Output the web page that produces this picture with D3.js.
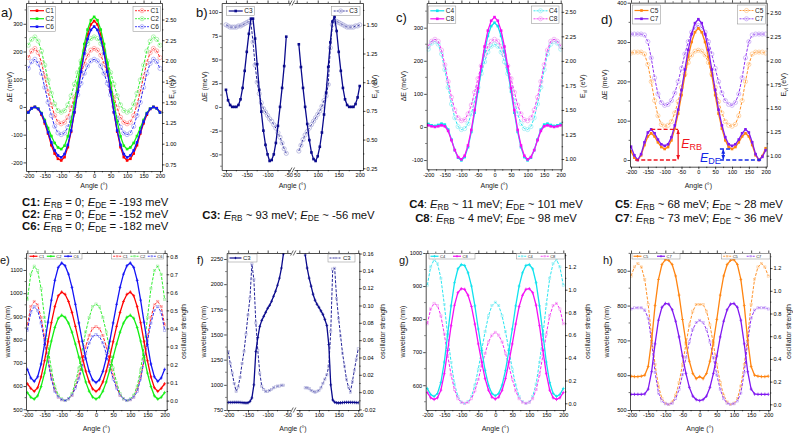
<!DOCTYPE html>
<html>
<head>
<meta charset="utf-8">
<script src="https://cdn.jsdelivr.net/npm/d3@7/dist/d3.min.js"></script>
<style>
  body { margin: 0; background: #fff; }
  svg { display: block; font-family: "Liberation Sans", Arial, sans-serif; }
</style>
</head>
<body>
<svg id="fig" width="793" height="433"></svg>
<script>
// ---------------- data ----------------
// angles (deg), 10 deg step
const ANG = [-200,-190,-180,-170,-160,-150,-140,-130,-120,-110,-100,-90,-80,-70,-60,-50,-40,-30,-20,-10,0,10,20,30,40,50,60,70,80,90,100,110,120,130,140,150,160,170,180,190,200];
// 5 deg step, broken axis panels
const ANG_B_L = [-200,-195,-190,-185,-180,-175,-170,-165,-160,-155,-150,-145,-140,-135,-130,-125,-120,-115,-110,-105,-100,-95,-90,-85,-80,-75,-70,-65,-60,-55];
const ANG_B_R = [55,60,65,70,75,80,85,90,95,100,105,110,115,120,125,130,135,140,145,150,155,160,165,170,175,180,185,190,195,200];
const ANG_F_L = [-200,-195,-190,-185,-180,-175,-170,-165,-160,-155,-150,-145,-140,-135,-130,-125,-120,-115,-110,-105,-100,-95,-90,-85,-80,-75,-70,-65,-60];
const ANG_F_R = [65,70,75,80,85,90,95,100,105,110,115,120,125,130,135,140,145,150,155,160,165,170,175,180,185,190,195,200];

const X_TICKS = [-200,-150,-100,-50,0,50,100,150,200];

// a) dE (meV) / E_vl (eV)
const dE_C1 = [-18,-4,0,-7,-28,-59,-96,-138,-168,-187,-193,-181,-145,-89,-19,58,136,206,262,298,310,298,262,206,136,58,-19,-89,-145,-181,-193,-187,-168,-138,-96,-59,-28,-7,0,-4,-18];
const dE_C2 = [-20,-5,0,-6,-22,-47,-76,-105,-130,-146,-152,-140,-106,-54,13,87,160,227,279,313,325,313,279,227,160,87,13,-54,-106,-140,-152,-146,-130,-105,-76,-47,-22,-6,0,-5,-20];
const dE_C6 = [-20,-5,0,-7,-24,-53,-91,-128,-157,-175,-182,-170,-137,-85,-19,54,127,193,245,278,290,278,245,193,127,54,-19,-85,-137,-170,-182,-175,-157,-128,-91,-53,-24,-7,0,-5,-20];
const Ev_C1 = [2.04,2.12,2.15,2.10,1.98,1.81,1.63,1.47,1.34,1.26,1.24,1.26,1.32,1.43,1.56,1.70,1.84,1.97,2.07,2.13,2.15,2.13,2.07,1.97,1.84,1.70,1.56,1.43,1.32,1.26,1.24,1.26,1.34,1.47,1.63,1.81,1.98,2.10,2.15,2.12,2.04];
const Ev_C2 = [2.19,2.26,2.29,2.24,2.12,1.95,1.77,1.61,1.48,1.40,1.38,1.40,1.47,1.58,1.72,1.86,2.00,2.12,2.21,2.27,2.29,2.27,2.21,2.12,2.00,1.86,1.72,1.58,1.47,1.40,1.38,1.40,1.48,1.61,1.77,1.95,2.12,2.24,2.29,2.26,2.19];
const Ev_C6 = [1.91,1.99,2.02,1.97,1.85,1.68,1.50,1.34,1.21,1.13,1.11,1.13,1.20,1.31,1.45,1.59,1.73,1.85,1.94,2.00,2.02,2.00,1.94,1.85,1.73,1.59,1.45,1.31,1.20,1.13,1.11,1.13,1.21,1.34,1.50,1.68,1.85,1.97,2.02,1.99,1.91];

// b) C3
const dE_C3_L = [18,7,2,0,0,0,2,8,20,38,58,77,93,93,72,45,18,-5,-25,-40,-50,-57,-56,-50,-38,-20,0,20,43,74];
const dE_C3_R = [66,42,20,0,-18,-35,-48,-55,-57,-52,-42,-27,-8,15,42,68,90,95,80,58,38,20,8,2,0,0,0,3,10,22];
const Ev_C3_L = [1.50,1.49,1.48,1.48,1.48,1.48,1.49,1.49,1.50,1.51,1.52,1.53,1.52,1.35,1.15,1.00,0.90,0.82,0.77,0.74,0.71,0.68,0.66,0.63,0.60,0.56,0.52,0.47,0.42,0.38];
const Ev_C3_R = [0.40,0.45,0.50,0.54,0.57,0.60,0.63,0.66,0.69,0.72,0.75,0.79,0.84,0.88,0.98,1.30,1.50,1.53,1.53,1.52,1.51,1.50,1.49,1.48,1.48,1.48,1.48,1.49,1.49,1.50];

// c) C4, C8
const dE_C4 = [9,5,3,6,10,7,-8,-38,-70,-93,-101,-91,-61,-15,43,107,171,229,275,305,315,305,275,229,171,107,43,-15,-61,-91,-101,-93,-70,-38,-8,7,10,6,3,5,9];
const dE_C8 = [5,2,0,2,5,2,-12,-40,-70,-91,-98,-87,-56,-9,51,117,183,243,291,321,332,321,291,243,183,117,51,-9,-56,-87,-98,-91,-70,-40,-12,2,5,2,0,2,5];
const Ev_C4 = [2.12,2.18,2.20,2.17,2.07,1.91,1.73,1.56,1.42,1.33,1.30,1.31,1.36,1.46,1.59,1.73,1.87,1.99,2.09,2.15,2.17,2.15,2.09,1.99,1.87,1.73,1.59,1.46,1.36,1.31,1.30,1.33,1.42,1.56,1.73,1.91,2.07,2.17,2.20,2.18,2.12];
const Ev_C8 = [2.15,2.20,2.22,2.20,2.11,1.96,1.79,1.63,1.50,1.42,1.39,1.40,1.46,1.55,1.68,1.82,1.95,2.06,2.15,2.20,2.22,2.20,2.15,2.06,1.95,1.82,1.68,1.55,1.46,1.40,1.39,1.42,1.50,1.63,1.79,1.96,2.11,2.20,2.22,2.20,2.15];

// d) C5, C7
const dE_C5 = [22,6,0,12,38,60,68,60,45,33,28,33,50,80,118,165,215,262,300,325,335,325,300,262,215,165,118,80,50,33,28,33,45,60,68,60,38,12,0,10,30];
const dE_C7 = [34,12,0,15,45,70,78,68,52,40,36,40,58,88,128,178,230,280,320,348,358,348,320,280,230,178,128,88,58,40,36,40,52,68,78,70,45,15,0,8,25];
const Ev_C5 = [2.08,2.09,2.09,2.09,2.07,1.96,1.78,1.58,1.42,1.33,1.31,1.32,1.36,1.45,1.57,1.72,1.86,1.98,2.06,2.10,2.11,2.10,2.06,1.98,1.86,1.72,1.57,1.45,1.36,1.32,1.31,1.33,1.42,1.58,1.78,1.96,2.07,2.09,2.09,2.09,2.08];
const Ev_C7 = [2.28,2.28,2.28,2.28,2.27,2.20,2.03,1.82,1.65,1.56,1.53,1.54,1.58,1.66,1.78,1.92,2.07,2.20,2.30,2.35,2.37,2.35,2.30,2.20,2.07,1.92,1.78,1.66,1.58,1.54,1.53,1.56,1.65,1.82,2.03,2.20,2.27,2.28,2.28,2.28,2.28];

// e) wavelength (nm) / oscillator strength
const WL_C1 = [610,590,577,593,640,709,791,873,942,989,1005,995,964,917,857,791,725,665,618,588,577,588,618,665,725,791,857,917,964,995,1005,989,942,873,791,709,640,593,577,590,610];
const WL_C2 = [572,552,544,558,598,656,725,794,852,892,905,896,871,832,781,725,669,618,578,553,544,553,578,618,669,725,781,832,871,896,905,892,852,794,725,656,598,558,544,552,572];
const WL_C6 = [672,635,620,640,695,780,875,970,1055,1111,1130,1118,1082,1025,952,872,793,720,663,627,615,627,663,720,793,872,952,1025,1082,1118,1130,1111,1055,970,875,780,695,640,620,635,672];
const OS_C1 = [0.42,0.52,0.55,0.53,0.46,0.35,0.23,0.13,0.06,0.02,0.005,0.00,0.01,0.03,0.08,0.14,0.22,0.30,0.36,0.40,0.41,0.40,0.36,0.30,0.22,0.14,0.08,0.03,0.01,0.00,0.005,0.02,0.06,0.13,0.23,0.35,0.46,0.53,0.55,0.52,0.42];
const OS_C2 = [0.56,0.70,0.745,0.72,0.62,0.46,0.30,0.17,0.08,0.03,0.01,0.00,0.01,0.04,0.10,0.18,0.28,0.38,0.46,0.52,0.535,0.52,0.46,0.38,0.28,0.18,0.10,0.04,0.01,0.00,0.01,0.03,0.08,0.17,0.30,0.46,0.62,0.72,0.745,0.70,0.56];
const OS_C6 = [0.39,0.49,0.52,0.50,0.43,0.33,0.22,0.12,0.05,0.02,0.005,0.00,0.01,0.03,0.07,0.12,0.19,0.26,0.32,0.355,0.365,0.355,0.32,0.26,0.19,0.12,0.07,0.03,0.01,0.00,0.005,0.02,0.05,0.12,0.22,0.33,0.43,0.50,0.52,0.49,0.39];

// f) C3
const WL_C3_L = [825,825,825,826,826,826,825,824,822,820,822,835,870,1000,1330,1470,1580,1640,1680,1720,1760,1790,1830,1880,1930,1990,2060,2160,2300];
const WL_C3_R = [2290,2160,2060,1980,1900,1840,1800,1770,1735,1700,1650,1590,1400,1000,850,828,822,820,822,824,825,826,826,826,825,825,824,823];
const OS_C3_L = [0.047,0.033,0.022,0.010,0.001,0.006,0.017,0.033,0.047,0.067,0.089,0.108,0.148,0.130,0.080,0.048,0.022,0.007,0.003,0.001,0.001,0.002,0.003,0.005,0.006,0.007,0.007,0.008,0.008];
const OS_C3_R = [0.005,0.005,0.004,0.002,0.001,0.000,0.001,0.002,0.005,0.010,0.015,0.020,0.030,0.070,0.142,0.143,0.108,0.085,0.065,0.045,0.030,0.015,0.006,0.000,0.012,0.025,0.038,0.050];

// g) C4, C8
const WL_C4 = [590,572,566,575,608,670,755,840,910,952,965,962,940,900,840,770,705,645,600,575,568,575,600,645,705,770,840,900,940,962,965,952,910,840,755,670,608,575,566,572,590];
const WL_C8 = [578,562,557,562,585,635,705,780,842,880,892,890,872,838,785,725,670,620,585,564,558,564,585,620,670,725,785,838,872,890,892,880,842,780,705,635,585,562,557,562,578];
const OS_C4 = [1.04,1.20,1.265,1.23,1.10,0.87,0.60,0.36,0.17,0.06,0.01,0.0,0.015,0.06,0.16,0.30,0.47,0.63,0.77,0.86,0.89,0.86,0.77,0.63,0.47,0.30,0.16,0.06,0.015,0.0,0.01,0.06,0.17,0.36,0.60,0.87,1.10,1.23,1.265,1.20,1.04];
const OS_C8 = [0.70,0.83,0.88,0.86,0.77,0.61,0.42,0.25,0.12,0.04,0.01,0.0,0.01,0.04,0.11,0.21,0.33,0.44,0.54,0.60,0.625,0.60,0.54,0.44,0.33,0.21,0.11,0.04,0.01,0.0,0.01,0.04,0.12,0.25,0.42,0.61,0.77,0.86,0.88,0.83,0.70];

// h) C5, C7
const WL_C5 = [597,596,596,597,600,625,700,800,875,918,932,930,918,885,830,760,695,640,605,590,596,590,605,640,695,760,830,885,918,930,932,918,875,800,700,625,600,597,596,596,597];
const WL_C7 = [545,545,545,545,546,560,610,690,758,795,806,804,788,755,710,655,605,565,540,530,527,530,540,565,605,655,710,755,788,804,806,795,758,690,610,560,546,545,545,545,545];
const OS_C5 = [1.13,1.21,1.24,1.21,1.10,0.88,0.60,0.35,0.16,0.05,0.01,0.0,0.02,0.08,0.19,0.35,0.53,0.70,0.82,0.88,0.88,0.88,0.82,0.70,0.53,0.35,0.19,0.08,0.02,0.0,0.01,0.05,0.16,0.35,0.60,0.88,1.10,1.21,1.24,1.21,1.13];
const OS_C7 = [0.84,0.85,0.85,0.85,0.83,0.76,0.55,0.28,0.10,0.03,0.005,0.0,0.01,0.05,0.13,0.26,0.41,0.55,0.66,0.72,0.74,0.72,0.66,0.55,0.41,0.26,0.13,0.05,0.01,0.0,0.005,0.03,0.10,0.28,0.55,0.76,0.83,0.85,0.85,0.85,0.84];

// barrier annotation in d) (meV, deg)
const E_RB_C7 = 78, E_DE_C5 = 28;

// captions
const CAPTIONS = [
  { x: 22, y: 206, a: "start", parts: [["C1:","b"],[" "],["E","i"],["RB","sub"],[" = 0; "],["E","i"],["DE","sub"],[" = -193 meV"]] },
  { x: 22, y: 218, a: "start", parts: [["C2:","b"],[" "],["E","i"],["RB","sub"],[" = 0; "],["E","i"],["DE","sub"],[" = -152 meV"]] },
  { x: 22, y: 230, a: "start", parts: [["C6:","b"],[" "],["E","i"],["RB","sub"],[" = 0; "],["E","i"],["DE","sub"],[" = -182 meV"]] },
  { x: 288.5, y: 219, a: "middle", parts: [["C3:","b"],[" "],["E","i"],["RB","sub"],[" ~ 93 meV; "],["E","i"],["DE","sub"],[" ~ -56 meV"]] },
  { x: 496, y: 208, a: "middle", parts: [["C4","b"],[": "],["E","i"],["RB","sub"],[" ~ 11 meV; "],["E","i"],["DE","sub"],[" ~ 101 meV"]] },
  { x: 496, y: 221.5, a: "middle", parts: [["C8","b"],[": "],["E","i"],["RB","sub"],[" ~ 4 meV; "],["E","i"],["DE","sub"],[" ~ 98 meV"]] },
  { x: 615, y: 208, a: "start", parts: [["C5","b"],[": "],["E","i"],["RB","sub"],[" ~ 68 meV; "],["E","i"],["DE","sub"],[" ~ 28 meV"]] },
  { x: 615, y: 221.5, a: "start", parts: [["C7","b"],[": "],["E","i"],["RB","sub"],[" ~ 73 meV; "],["E","i"],["DE","sub"],[" ~ 36 meV"]] }
];

// ---------------- styles ----------------
const STY = {
  C1: { c: "#FF0000", l: "#FF9A9A" },
  C2: { c: "#14EE14", l: "#9CEE9C" },
  C6: { c: "#1414F5", l: "#A0A0F0" },
  C3: { c: "#0A0A8C", l: "#AAAAD8" },
  C4: { c: "#10E2EE", l: "#9EEEF4" },
  C8: { c: "#F410F4", l: "#F2A4F2" },
  C5: { c: "#FF8410", l: "#FFC890" },
  C7: { c: "#8018F0", l: "#C6A6F6" }
};
const FONT = "'Liberation Sans', Arial, sans-serif";
const FS_TICK = 5.6, FS_TITLE = 7, TICK = 2.5;

const svg = d3.select("#fig");
const defs = svg.append("defs");
svg.append("rect").attr("width", 793).attr("height", 433).attr("fill", "#fff");

function rich(t, parts, size, shift) {
  const sh = shift === undefined ? 0.24 : shift;
  let down = false;
  parts.forEach(([s, st]) => {
    const ts = t.append("tspan").text(s);
    if (st === "sub") {
      ts.attr("font-size", size * 0.72);
      if (!down) { ts.attr("dy", size * sh); down = true; }
    } else {
      if (down) { ts.attr("dy", -size * sh); down = false; }
      if (st === "b") ts.attr("font-weight", "bold");
      if (st === "i") ts.attr("font-style", "italic");
    }
  });
}

function drawMarkers(g, mk, pts, st, k) {
  if (mk === "sq") {
    const s = 2.6 * k;
    g.selectAll(null).data(pts).join("rect")
      .attr("x", d => d[0] - s / 2).attr("y", d => d[1] - s / 2)
      .attr("width", s).attr("height", s).attr("fill", st.c);
  } else if (mk === "oc") {
    g.selectAll(null).data(pts).join("circle")
      .attr("cx", d => d[0]).attr("cy", d => d[1]).attr("r", 2.1 * k)
      .attr("fill", "none").attr("stroke", st.l).attr("stroke-width", 0.75);
  } else if (mk === "plus") {
    const a = 1.4 * k, b = 1.7 * k;
    g.selectAll(null).data(pts).join("path")
      .attr("d", d => `M${d[0] - a},${d[1]}h${2 * a}M${d[0]},${d[1] - b}v${2 * b}`)
      .attr("stroke", st.c).attr("stroke-width", 0.75).attr("fill", "none");
  } else if (mk === "osq") {
    const s = 2.2 * k;
    g.selectAll(null).data(pts).join("rect")
      .attr("x", d => d[0] - s / 2).attr("y", d => d[1] - s / 2)
      .attr("width", s).attr("height", s)
      .attr("fill", "none").attr("stroke", st.l).attr("stroke-width", 0.6);
  }
}

function markerType(row, open) {
  if (row === "top") return open ? "oc" : "sq";
  return open ? "osq" : "plus";
}

function minorVals(ticks, dom) {
  const step = ticks[1] - ticks[0];
  const lo = Math.min(dom[0], dom[1]), hi = Math.max(dom[0], dom[1]);
  const out = [];
  for (let i = -1; i < ticks.length; i++) {
    const v = ticks[0] + step * (i + 0.5);
    if (v >= lo && v <= hi) out.push(v);
  }
  return out;
}

function styleAxis(sel) {
  sel.attr("font-size", FS_TICK).attr("font-family", FONT);
  sel.selectAll("path,line").attr("stroke-width", 0.7);
}

function legend(L, row) {
  const g = svg.append("g");
  g.append("rect").attr("x", L.x).attr("y", L.y).attr("width", L.w).attr("height", L.h)
    .attr("fill", "#fff").attr("stroke", "#8a8a8a").attr("stroke-width", 0.5);
  const k = row === "top" ? 1 : 0.7;
  L.items.forEach((it, i) => {
    const st = STY[it.cmp];
    const cx = L.horiz ? L.x + 1.5 + i * L.step : L.x + 2;
    const cy = L.horiz ? L.y + L.h / 2 : L.y + L.row0 + i * L.rowH;
    g.append("line").attr("x1", cx).attr("x2", cx + L.lw).attr("y1", cy).attr("y2", cy)
      .attr("stroke", st.c).attr("stroke-width", it.open ? 0.8 : 1.2)
      .attr("stroke-dasharray", it.open ? "2,1" : null);
    drawMarkers(g, markerType(row, it.open), [[cx + L.lw / 2, cy]], st, k);
    g.append("text").attr("x", cx + L.lw + 1.5).attr("y", cy).attr("dy", "0.35em")
      .attr("font-size", L.fs).attr("fill", "#222").text(it.cmp);
  });
}

function drawPanel(p) {
  p.ys = d3.scaleLinear().domain(p.ydom).range([p.y1, p.y0]);
  p.y2s = d3.scaleLinear().domain(p.y2dom).range([p.y1, p.y0]);
  p.segs.forEach((s, i) => {
    s.x = d3.scaleLinear().domain(s.dom).range(s.px);
    s.clip = `clip-${p.id}-${i}`;
    defs.append("clipPath").attr("id", s.clip).append("rect")
      .attr("x", s.px[0]).attr("y", p.y0).attr("width", s.px[1] - s.px[0]).attr("height", p.y1 - p.y0);
  });
  const x0 = p.segs[0].px[0], x1 = p.segs[p.segs.length - 1].px[1];

  // series (open / E_vl first, solid on top)
  p.series.forEach(s => {
    const seg = p.segs[s.seg || 0];
    const ys = s.axis === "y2" ? p.y2s : p.ys;
    const st = STY[s.cmp];
    const pts = s.xs.map((a, i) => [seg.x(a), ys(s.ys[i])]);
    const g = svg.append("g").attr("clip-path", `url(#${seg.clip})`);
    g.append("path").attr("d", d3.line()(pts)).attr("fill", "none")
      .attr("stroke", st.c).attr("stroke-width", s.open ? 0.9 : 1.3)
      .attr("stroke-dasharray", s.open ? "3,1.5" : null);
    drawMarkers(g, markerType(p.row, s.open), pts, st, 1);
  });

  // axes
  const ax = svg.append("g");
  ax.append("g").attr("transform", `translate(${x0},0)`)
    .call(d3.axisLeft(p.ys).tickValues(p.yticks).tickFormat(p.yfmt).tickSize(TICK).tickPadding(1).tickSizeOuter(0))
    .call(styleAxis);
  ax.append("g").attr("transform", `translate(${x1},0)`)
    .call(d3.axisRight(p.y2s).tickValues(p.y2ticks).tickFormat(p.y2fmt).tickSize(TICK).tickPadding(1).tickSizeOuter(0))
    .call(styleAxis);
  p.segs.forEach(s => {
    ax.append("g").attr("transform", `translate(0,${p.y1})`)
      .call(d3.axisBottom(s.x).tickValues(s.ticks).tickFormat(d => d).tickSize(TICK).tickPadding(1).tickSizeOuter(0))
      .call(styleAxis);
    ax.append("g").attr("transform", `translate(0,${p.y0})`)
      .call(d3.axisTop(s.x).tickValues(s.ticks).tickFormat("").tickSize(TICK).tickSizeOuter(0))
      .call(styleAxis);
    // minor x ticks
    minorVals(s.ticks, s.dom).forEach(v => {
      const xx = s.x(v);
      ax.append("line").attr("x1", xx).attr("x2", xx).attr("y1", p.y1).attr("y2", p.y1 + 1.4).attr("stroke", "#000").attr("stroke-width", 0.6);
      ax.append("line").attr("x1", xx).attr("x2", xx).attr("y1", p.y0).attr("y2", p.y0 - 1.4).attr("stroke", "#000").attr("stroke-width", 0.6);
    });
  });
  minorVals(p.yticks, p.ydom).forEach(v => {
    const yy = p.ys(v);
    ax.append("line").attr("x1", x0).attr("x2", x0 - 1.4).attr("y1", yy).attr("y2", yy).attr("stroke", "#000").attr("stroke-width", 0.6);
  });
  minorVals(p.y2ticks, p.y2dom).forEach(v => {
    const yy = p.y2s(v);
    ax.append("line").attr("x1", x1).attr("x2", x1 + 1.4).attr("y1", yy).attr("y2", yy).attr("stroke", "#000").attr("stroke-width", 0.6);
  });

  // broken-axis marks
  if (p.segs.length === 2) {
    const mx = (p.segs[0].px[1] + p.segs[1].px[0]) / 2;
    [p.y0, p.y1].forEach(yy => {
      [-1.3, 1.3].forEach(o => {
        ax.append("line").attr("x1", mx + o - 1.3).attr("y1", yy + 2.5)
          .attr("x2", mx + o + 1.3).attr("y2", yy - 2.5)
          .attr("stroke", "#000").attr("stroke-width", 0.6);
      });
    });
  }

  // titles
  const cy = (p.y0 + p.y1) / 2;
  const tl = ax.append("text").attr("transform", `translate(${p.ylabX},${cy}) rotate(-90)`)
    .attr("text-anchor", "middle").attr("dy", "0.35em").attr("font-size", FS_TITLE).attr("fill", "#222");
  rich(tl, p.ylab, FS_TITLE);
  const tr = ax.append("text").attr("transform", `translate(${p.y2labX},${cy}) rotate(-90)`)
    .attr("text-anchor", "middle").attr("dy", "0.35em").attr("font-size", FS_TITLE).attr("fill", "#222");
  rich(tr, p.y2lab, FS_TITLE);
  ax.append("text").attr("x", (x0 + x1) / 2).attr("y", p.xlabY).attr("text-anchor", "middle")
    .attr("font-size", FS_TITLE).attr("fill", "#222").text("Angle (°)");
  ax.append("text").attr("x", p.lab[0]).attr("y", p.lab[1]).attr("font-size", p.lab[2])
    .attr("fill", "#111").text(p.id + ")");

  p.legends.forEach(L => legend(L, p.row));
}

const f0 = d => d;
const f1 = d => d.toFixed(1);
const f2 = d => d.toFixed(2);
const TOP_YLAB = [["ΔE (meV)"]];
const TOP_Y2LAB = [["E"], ["vl", "sub"], [" (eV)"]];
const BOT_YLAB = [["wavelength (nm)"]];
const BOT_Y2LAB = [["oscillator strength"]];
const EV_TICKS = [0.75, 1.0, 1.25, 1.5, 1.75, 2.0, 2.25, 2.5];

function topLegends(xl, xr, y, w, h, cmps, row0, rowH) {
  return [
    { x: xl, y: y, w: w, h: h, row0: row0, rowH: rowH, lw: 14, fs: 6.5, items: cmps.map(c => ({ cmp: c })) },
    { x: xr, y: y, w: w, h: h, row0: row0, rowH: rowH, lw: 14, fs: 6.5, items: cmps.map(c => ({ cmp: c, open: true })) }
  ];
}
function botLegends(xl, wl, xr, wr, cmps, step) {
  return [
    { x: xl, y: 253.5, w: wl, h: 5.5, horiz: true, step: step, lw: 8, fs: 4, items: cmps.map(c => ({ cmp: c })) },
    { x: xr, y: 253.5, w: wr, h: 5.5, horiz: true, step: step, lw: 8, fs: 4, items: cmps.map(c => ({ cmp: c, open: true })) }
  ];
}

const PANELS = [
  { id: "a", row: "top", y0: 3, y1: 171, lab: [1, 16.5, 13],
    segs: [{ dom: [-207, 206], px: [26, 162], ticks: X_TICKS }],
    ydom: [-231, 375], yticks: [-200, -100, 0, 100, 200, 300], yfmt: f0,
    y2dom: [0.67, 2.70], y2ticks: EV_TICKS, y2fmt: f2,
    ylab: TOP_YLAB, y2lab: TOP_Y2LAB, ylabX: 10, y2labX: 171.5, xlabY: 187.5,
    series: [
      { xs: ANG, ys: Ev_C1, axis: "y2", cmp: "C1", open: true },
      { xs: ANG, ys: Ev_C2, axis: "y2", cmp: "C2", open: true },
      { xs: ANG, ys: Ev_C6, axis: "y2", cmp: "C6", open: true },
      { xs: ANG, ys: dE_C1, cmp: "C1" },
      { xs: ANG, ys: dE_C2, cmp: "C2" },
      { xs: ANG, ys: dE_C6, cmp: "C6" }
    ],
    legends: topLegends(28, 133, 6.5, 27.5, 25, ["C1", "C2", "C6"], 4.2, 8) },
  { id: "b", row: "top", y0: 3, y1: 170, lab: [196, 17, 13],
    segs: [{ dom: [-210.3, -46], px: [221.7, 290], ticks: [-200, -150, -100, -50] },
           { dom: [43.5, 207.8], px: [294, 363], ticks: [50, 100, 150, 200] }],
    ydom: [-66.5, 109.5], yticks: [-50, -25, 0, 25, 50, 75, 100], yfmt: f0,
    y2dom: [0.235, 1.69], y2ticks: [0.25, 0.5, 0.75, 1.0, 1.25, 1.5], y2fmt: f2,
    ylab: TOP_YLAB, y2lab: TOP_Y2LAB, ylabX: 205, y2labX: 375, xlabY: 187.5,
    series: [
      { xs: ANG_B_L, ys: Ev_C3_L, axis: "y2", cmp: "C3", open: true, seg: 0 },
      { xs: ANG_B_R, ys: Ev_C3_R, axis: "y2", cmp: "C3", open: true, seg: 1 },
      { xs: ANG_B_L, ys: dE_C3_L, cmp: "C3", seg: 0 },
      { xs: ANG_B_R, ys: dE_C3_R, cmp: "C3", seg: 1 }
    ],
    legends: [
      { x: 226.7, y: 6.5, w: 27.6, h: 9, row0: 4.5, rowH: 8, lw: 14, fs: 6.5, items: [{ cmp: "C3" }] },
      { x: 331.7, y: 6.5, w: 28.3, h: 9, row0: 4.5, rowH: 8, lw: 14, fs: 6.5, items: [{ cmp: "C3", open: true }] }
    ] },
  { id: "c", row: "top", y0: 3, y1: 169.3, lab: [396, 22, 13],
    segs: [{ dom: [-204.8, 203], px: [426.7, 561.7], ticks: X_TICKS }],
    ydom: [-128, 374.6], yticks: [-100, 0, 100, 200, 300], yfmt: f0,
    y2dom: [0.895, 2.59], y2ticks: EV_TICKS.slice(1), y2fmt: f2,
    ylab: TOP_YLAB, y2lab: TOP_Y2LAB, ylabX: 403.5, y2labX: 583, xlabY: 187.5,
    series: [
      { xs: ANG, ys: Ev_C4, axis: "y2", cmp: "C4", open: true },
      { xs: ANG, ys: Ev_C8, axis: "y2", cmp: "C8", open: true },
      { xs: ANG, ys: dE_C4, cmp: "C4" },
      { xs: ANG, ys: dE_C8, cmp: "C8" }
    ],
    legends: topLegends(428.3, 531.5, 6, 27.5, 17.5, ["C4", "C8"], 4.8, 8) },
  { id: "d", row: "top", y0: 2.7, y1: 166.7, lab: [601, 23.5, 13],
    segs: [{ dom: [-203, 203], px: [630, 766.7], ticks: X_TICKS }],
    ydom: [-17, 400], yticks: [0, 100, 200, 300, 400], yfmt: f0,
    y2dom: [0.884, 2.61], y2ticks: EV_TICKS.slice(1), y2fmt: f2,
    ylab: TOP_YLAB, y2lab: TOP_Y2LAB, ylabX: 605, y2labX: 783.5, xlabY: 187.5,
    series: [
      { xs: ANG, ys: Ev_C5, axis: "y2", cmp: "C5", open: true },
      { xs: ANG, ys: Ev_C7, axis: "y2", cmp: "C7", open: true },
      { xs: ANG, ys: dE_C5, cmp: "C5" },
      { xs: ANG, ys: dE_C7, cmp: "C7" }
    ],
    legends: topLegends(632.5, 737.5, 5, 28, 19, ["C5", "C7"], 5.5, 8.3) },
  { id: "e", row: "bot", y0: 253, y1: 410, lab: [0, 264, 11],
    segs: [{ dom: [-204, 206], px: [26, 166.7], ticks: X_TICKS }],
    ydom: [497, 1173], yticks: [500, 600, 700, 800, 900, 1000, 1100], yfmt: f0,
    y2dom: [-0.052, 0.818], y2ticks: [0, 0.1, 0.2, 0.3, 0.4, 0.5, 0.6, 0.7, 0.8], y2fmt: f1,
    ylab: BOT_YLAB, y2lab: BOT_Y2LAB, ylabX: 7.5, y2labX: 183.5, xlabY: 430.5,
    series: [
      { xs: ANG, ys: OS_C1, axis: "y2", cmp: "C1", open: true },
      { xs: ANG, ys: OS_C2, axis: "y2", cmp: "C2", open: true },
      { xs: ANG, ys: OS_C6, axis: "y2", cmp: "C6", open: true },
      { xs: ANG, ys: WL_C1, cmp: "C1" },
      { xs: ANG, ys: WL_C2, cmp: "C2" },
      { xs: ANG, ys: WL_C6, cmp: "C6" }
    ],
    legends: botLegends(28, 54, 111.7, 51.6, ["C1", "C2", "C6"], 17.3) },
  { id: "f", row: "bot", y0: 253, y1: 410, lab: [197, 264, 11],
    segs: [{ dom: [-204, -42], px: [226.7, 290.5], ticks: [-200, -150, -100, -50] },
           { dom: [41.5, 202.7], px: [296, 359.3], ticks: [50, 100, 150, 200] }],
    ydom: [750, 2309.6], yticks: [750, 1000, 1250, 1500, 1750, 2000, 2250], yfmt: f0,
    y2dom: [-0.0206, 0.1606], y2ticks: [-0.02, 0, 0.02, 0.04, 0.06, 0.08, 0.10, 0.12, 0.14, 0.16], y2fmt: f2,
    ylab: BOT_YLAB, y2lab: BOT_Y2LAB, ylabX: 203.5, y2labX: 383, xlabY: 430.5,
    series: [
      { xs: ANG_F_L, ys: OS_C3_L, axis: "y2", cmp: "C3", open: true, seg: 0 },
      { xs: ANG_F_R, ys: OS_C3_R, axis: "y2", cmp: "C3", open: true, seg: 1 },
      { xs: ANG_F_L, ys: WL_C3_L, cmp: "C3", seg: 0 },
      { xs: ANG_F_R, ys: WL_C3_R, cmp: "C3", seg: 1 }
    ],
    legends: [
      { x: 228, y: 254, w: 29, h: 8, horiz: true, step: 20, lw: 12, fs: 6, items: [{ cmp: "C3" }] },
      { x: 328, y: 254, w: 27, h: 8, horiz: true, step: 20, lw: 12, fs: 6, items: [{ cmp: "C3", open: true }] }
    ] },
  { id: "g", row: "bot", y0: 253, y1: 410, lab: [399, 264, 11],
    segs: [{ dom: [-204.7, 205], px: [425.7, 565], ticks: X_TICKS }],
    ydom: [525, 1000], yticks: [600, 700, 800, 900, 1000], yfmt: f0,
    y2dom: [-0.059, 1.323], y2ticks: [0, 0.2, 0.4, 0.6, 0.8, 1.0, 1.2], y2fmt: f1,
    ylab: BOT_YLAB, y2lab: BOT_Y2LAB, ylabX: 403, y2labX: 588, xlabY: 430.5,
    series: [
      { xs: ANG, ys: OS_C4, axis: "y2", cmp: "C4", open: true },
      { xs: ANG, ys: OS_C8, axis: "y2", cmp: "C8", open: true },
      { xs: ANG, ys: WL_C4, cmp: "C4" },
      { xs: ANG, ys: WL_C8, cmp: "C8" }
    ],
    legends: botLegends(429, 46, 516.7, 48, ["C4", "C8"], 22.5) },
  { id: "h", row: "bot", y0: 253, y1: 410, lab: [603, 264, 11],
    segs: [{ dom: [-203, 205], px: [630, 770], ticks: X_TICKS }],
    ydom: [500, 951], yticks: [500, 600, 700, 800, 900], yfmt: f0,
    y2dom: [-0.05, 1.333], y2ticks: [0, 0.2, 0.4, 0.6, 0.8, 1.0, 1.2], y2fmt: f1,
    ylab: BOT_YLAB, y2lab: BOT_Y2LAB, ylabX: 607, y2labX: 789, xlabY: 430.5,
    series: [
      { xs: ANG, ys: OS_C5, axis: "y2", cmp: "C5", open: true },
      { xs: ANG, ys: OS_C7, axis: "y2", cmp: "C7", open: true },
      { xs: ANG, ys: WL_C5, cmp: "C5" },
      { xs: ANG, ys: WL_C7, cmp: "C7" }
    ],
    legends: botLegends(632, 48, 721.7, 48.3, ["C5", "C7"], 23.5) }
];

PANELS.forEach(drawPanel);

// ---- barrier annotation in panel d ----
(function () {
  const p = PANELS[3], x = p.segs[0].x, y = p.ys;
  function arrowDef(id, color) {
    defs.append("marker").attr("id", id).attr("viewBox", "0 0 10 10")
      .attr("refX", 9).attr("refY", 5).attr("markerWidth", 4).attr("markerHeight", 4)
      .attr("orient", "auto-start-reverse")
      .append("path").attr("d", "M0,1L10,5L0,9z").attr("fill", color);
  }
  const red = "#F0141E", blue = "#1228E6";
  arrowDef("arR", red); arrowDef("arB", blue);
  const g = svg.append("g");
  const dash = (x1, x2, yv, col) => g.append("line")
    .attr("x1", x(x1)).attr("x2", x(x2)).attr("y1", y(yv)).attr("y2", y(yv))
    .attr("stroke", col).attr("stroke-width", 1.4).attr("stroke-dasharray", "4,2.2");
  dash(-188, -60, 0, red);
  dash(-140, -60, E_RB_C7, red);
  g.append("line").attr("x1", x(-60)).attr("x2", x(-60)).attr("y1", y(2)).attr("y2", y(E_RB_C7 - 2))
    .attr("stroke", red).attr("stroke-width", 1.2)
    .attr("marker-start", "url(#arR)").attr("marker-end", "url(#arR)");
  dash(64, 188, 0, blue);
  dash(64, 99, E_DE_C5, blue);
  g.append("line").attr("x1", x(74)).attr("x2", x(74)).attr("y1", y(2)).attr("y2", y(E_DE_C5 - 1))
    .attr("stroke", blue).attr("stroke-width", 1.2)
    .attr("marker-start", "url(#arB)").attr("marker-end", "url(#arB)");
  const t1 = g.append("text").attr("x", x(-60) + 3).attr("y", y(42) + 4.5)
    .attr("font-size", 12.5).attr("fill", red);
  rich(t1, [["E", "i"], ["RB", "sub"]], 12.5, 0.2);
  const t2 = g.append("text").attr("x", x(74) - 2.5).attr("y", y(7) + 4.5).attr("text-anchor", "end")
    .attr("font-size", 12.5).attr("fill", blue);
  rich(t2, [["E", "i"], ["DE", "sub"]], 12.5, 0.2);
})();

// ---- captions ----
CAPTIONS.forEach(c => {
  const t = svg.append("text").attr("x", c.x).attr("y", c.y).attr("text-anchor", c.a)
    .attr("font-size", 11.3).attr("fill", "#111");
  rich(t, c.parts, 11.3, 0.2);
});
</script>
</body>
</html>
